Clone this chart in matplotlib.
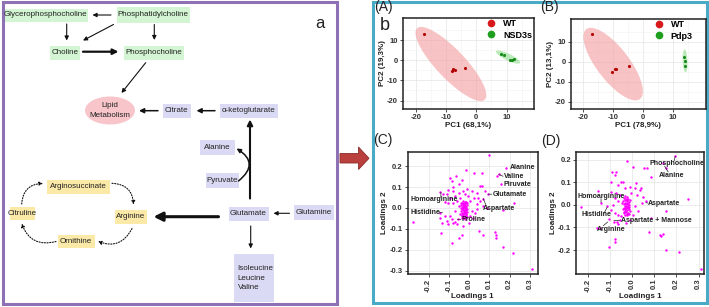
import numpy as np
import matplotlib.pyplot as plt
from matplotlib import font_manager
from matplotlib.patches import Rectangle, Ellipse, Polygon
from matplotlib.lines import Line2D

plt.rcParams['axes.unicode_minus'] = False
plt.rcParams['font.family'] = ['Liberation Sans', 'DejaVu Sans']

installed = {f.name for f in font_manager.fontManager.ttflist}
if 'Liberation Sans Narrow' in installed:
    narrow, box_fs = 'Liberation Sans Narrow', 7
else:
    narrow, box_fs = 'Liberation Sans', 5.8

# ---------------- data ----------------
# pathway (panel a)
green_nodes = ['Glycerophosphocholine', 'Phosphatidylcholine', 'Choline', 'Phosphocholine']
blue_nodes = ['Citrate', 'α-ketoglutarate', 'Alanine', 'Pyruvate', 'Glutamate', 'Glutamine']
yellow_nodes = ['Arginine', 'Arginosuccinate', 'Citruline', 'Ornithine']
bcaa = ['Isoleucine', 'Leucine', 'Valine']

# PCA scores (A) WT vs NSD3s
a_wt_x = [-17.2, -8.0, -7.6, -7.2, -3.7]
a_wt_y = [13.3, -5.3, -4.5, -5.0, -3.8]
a_ko_x = [8.2, 9.2, 11.0, 11.7, 12.5]
a_ko_y = [3.3, 2.8, 0.3, 0.3, 0.8]
# PCA scores (B) WT vs Pdp3
b_wt_x = [-16.9, -9.5, -10.3, -9.0, -4.7]
b_wt_y = [13.9, -3.8, -5.2, -3.9, -2.2]
b_ko_x = [13.7, 14.1, 14.0]
b_ko_y = [2.5, 0.3, -2.0]

# loadings (C)
c_x = [0.098, -0.015, 0.025, 0.062, 0.182, 0.138, 0.146, 0.157, -0.093, -0.082, -0.064, -0.034,
       -0.048, -0.077, -0.143, -0.130, 0.054, 0.064, 0.079, 0.095, 0.038, 0.013, -0.011, -0.028,
       -0.052, -0.077, -0.102, -0.110, -0.093, -0.069, -0.044, -0.003, 0.025, 0.046, 0.054, 0.038,
       0.070, -0.061, -0.077, -0.102, -0.118, -0.277, -0.143, -0.143, -0.134, -0.110, -0.118, -0.093,
       -0.085, -0.077, -0.102, -0.061, -0.069, -0.138, -0.036, -0.048, -0.085, 0.223, 0.166, 0.049,
       0.067, 0.128, 0.131, 0.133, 0.166, 0.215, 0.310, 0.013, 0.030, 0.038, 0.005, 0.021, -0.057,
       -0.020, 0.005, -0.052, -0.069, -0.044, 0.002, -0.028, 0.070, 0.087,
       -0.030, -0.022, -0.035, -0.015, -0.027, -0.018, -0.038, -0.010, -0.025, -0.032, -0.020, -0.013,
       -0.040, -0.028, -0.017, -0.034, -0.024, -0.008, -0.030, -0.019, -0.038, -0.012, -0.026, -0.033,
       -0.021, -0.015, -0.029, -0.036, -0.023, -0.017, -0.031, -0.025, -0.020, -0.027, -0.022, -0.031,
       -0.014, -0.036, -0.018, -0.026, -0.011, -0.041, -0.028, -0.016, -0.033, -0.024, -0.019, -0.029,
       -0.035, -0.012]
c_y = [0.254, 0.184, 0.169, 0.169, 0.193, 0.153, 0.161, 0.113, 0.142, 0.129, 0.152, 0.133,
       0.113, 0.101, 0.078, 0.065, 0.105, 0.104, 0.081, 0.069, 0.073, 0.081, 0.089, 0.081,
       0.073, 0.081, 0.085, 0.065, 0.050, 0.058, 0.050, 0.058, 0.050, 0.050, 0.034, 0.018,
       0.045, 0.034, 0.026, 0.026, 0.030, -0.065, -0.022, -0.046, -0.070, -0.062, -0.038, -0.038,
       -0.054, -0.070, -0.078, -0.078, -0.065, -0.121, -0.131, -0.145, -0.169, 0.022, -0.008, -0.110,
       -0.129, -0.117, -0.129, -0.145, -0.185, -0.216, -0.291, -0.014, -0.022, -0.006, -0.038, -0.046,
       -0.054, 0.065, 0.034, 0.010, -0.014, -0.030, -0.070, -0.086, 0.010, 0.002,
       0.035, 0.030, 0.025, 0.028, 0.020, 0.018, 0.015, 0.015, 0.010, 0.008, 0.005, 0.004,
       0.002, 0.000, -0.003, -0.005, -0.008, -0.006, -0.012, -0.014, -0.016, -0.018, -0.020, -0.024,
       -0.025, -0.028, -0.031, -0.033, -0.036, -0.040, -0.043, -0.047, -0.052, -0.022, 0.001, 0.018,
       -0.010, -0.001, 0.010, 0.026, 0.022, 0.022, -0.037, -0.034, -0.050, 0.015, -0.020, 0.005,
       -0.040, -0.045]

# loadings (D)
d_x = [0.195, 0.140, 0.155, -0.021, 0.005, 0.053, 0.069, 0.084, -0.089, -0.071, -0.078, -0.048,
       -0.039, -0.153, -0.138, -0.229, 0.253, 0.152, 0.062, 0.045, 0.087, -0.113, -0.083, -0.068,
       -0.056, -0.156, -0.143, -0.104, -0.063, 0.077, 0.126, 0.129, 0.141, -0.078, -0.075, -0.105,
       0.152, 0.214, 0.310, -0.093, -0.063, -0.033, -0.011, 0.012, 0.035, 0.042, 0.020, -0.003,
       0.024, 0.050, -0.093, -0.071, -0.056, -0.078, -0.063, -0.086, -0.093, -0.078, -0.063, -0.048,
       0.012, 0.027, 0.005, -0.011, -0.029,
       -0.035, -0.025, -0.018, -0.030, -0.040, -0.022, -0.012, -0.033, -0.027, -0.017, -0.038, -0.024,
       -0.031, -0.014, -0.020, -0.036, -0.027, -0.042, -0.016, -0.023, -0.032, -0.011, -0.027, -0.019,
       -0.036, -0.024, -0.030, -0.015, -0.021, -0.029, -0.013, -0.034, -0.018, -0.025, -0.038, -0.022,
       -0.044, -0.009, -0.028, -0.033]
d_y = [0.218, 0.184, 0.165, 0.194, 0.169, 0.165, 0.165, 0.125, 0.144, 0.144, 0.132, 0.100,
       0.103, 0.062, 0.007, -0.010, 0.026, -0.025, 0.015, 0.010, -0.056, -0.007, -0.076, -0.076,
       -0.066, -0.103, -0.103, -0.063, -0.085, -0.121, -0.132, -0.140, -0.129, -0.151, -0.166, -0.187,
       -0.201, -0.209, -0.282, 0.103, 0.088, 0.074, 0.081, 0.074, 0.066, 0.076, 0.096, 0.051,
       0.044, 0.037, 0.059, 0.051, 0.044, 0.029, 0.015, 0.000, -0.022, -0.037, -0.044, -0.051,
       -0.007, -0.029, -0.044, -0.066, -0.081,
       0.030, 0.033, 0.025, 0.020, 0.018, 0.015, 0.012, 0.010, 0.005, 0.003, 0.002, -0.003,
       -0.006, -0.008, -0.011, -0.012, -0.016, -0.018, -0.020, -0.024, -0.026, -0.028, -0.031, -0.034,
       -0.036, -0.040, -0.043, -0.042, 0.008, 0.026, -0.001, -0.020, -0.016, 0.020, -0.030, -0.046,
       0.008, 0.020, -0.009, 0.040]

c_labels = ['Alanine', 'Valine', 'Piruvate', 'Glutamate', 'Aspartate', 'Homoarginine', 'Histidine', 'Proline']
d_labels = ['Phosphocholine', 'Alanine', 'Homoarginine', 'Histidine', 'Aspartate',
            'Aspartate + Mannose', 'Arginine']

# ---------------- figure ----------------
W, H = 709, 307
fig = plt.figure(figsize=(W / 100, H / 100), dpi=100)
bg = fig.add_axes([0, 0, 1, 1])
bg.set_xlim(0, W)
bg.set_ylim(H, 0)
bg.axis('off')

GREEN, BLUE, YELLOW, PINK = '#d3f5d3', '#dadaf4', '#fbe9a8', '#f8c6ca'

# box extents in pixels (x0, y0, x1, y1)
box_pos = {
    'Glycerophosphocholine': (3.5, 8.5, 87.5, 21.5),
    'Phosphatidylcholine': (116.5, 7, 189.5, 22.5),
    'Choline': (49.5, 46, 80, 59.5),
    'Phosphocholine': (124, 46, 183.5, 60),
    'Citrate': (162.5, 104, 190.5, 117.5),
    'α-ketoglutarate': (220, 103.5, 277.5, 117.5),
    'Alanine': (200, 140, 235, 155),
    'Pyruvate': (206, 172.5, 238.5, 187.5),
    'Glutamate': (228.5, 206.5, 268.5, 221),
    'Glutamine': (294, 205, 333.5, 220),
    'Arginine': (115, 210, 146.5, 224),
    'Arginosuccinate': (46.5, 180, 110, 193.5),
    'Citruline': (10, 206.5, 35, 220),
    'Ornithine': (57.5, 235, 95, 247.5),
}


def node(name, color):
    x0, y0, x1, y1 = box_pos[name]
    bg.add_patch(Rectangle((x0, y0), x1 - x0, y1 - y0, fc=color, ec='none'))
    bg.text((x0 + x1) / 2, (y0 + y1) / 2, name, ha='center', va='center',
            fontsize=box_fs, family=narrow, color='#222222')


for n in green_nodes:
    node(n, GREEN)
for n in blue_nodes:
    node(n, BLUE)
for n in yellow_nodes:
    node(n, YELLOW)

# BCAA box
bg.add_patch(Rectangle((233.5, 254), 40, 47.5, fc=BLUE, ec='none'))
bg.text(237.5, 278, '\n'.join(bcaa), ha='left', va='center', fontsize=box_fs,
        family=narrow, color='#222222', linespacing=1.55)

# lipid metabolism ellipse
bg.add_patch(Ellipse((110, 110.5), 50, 28, fc=PINK, ec='none'))
bg.text(110, 110.5, 'Lipid\nMetabolism', ha='center', va='center', fontsize=box_fs,
        family=narrow, color='#222222', linespacing=1.5)


def arrow(p0, p1, lw=0.8, ms=6, rad=0.0, ls='-'):
    bg.annotate('', xy=p1, xytext=p0,
                arrowprops=dict(arrowstyle='-|>', lw=lw, color='#111111', mutation_scale=ms,
                                shrinkA=0, shrinkB=0, linestyle=ls,
                                connectionstyle='arc3,rad=%s' % rad))


arrow((111, 15), (92.5, 15))
arrow((66.7, 24), (66.7, 40.5))
arrow((113.5, 24.5), (83, 40.5))
arrow((154.3, 24.5), (154.3, 40))
arrow((83, 51.7), (118.5, 51.7), lw=1.6, ms=8)
arrow((145.7, 62.7), (121.5, 93))
arrow((158, 110.7), (139, 110.7), lw=1.1, ms=7)
arrow((215, 110.7), (196.5, 110.7), lw=1.1, ms=7)
arrow((250, 198.5), (250, 119.5), lw=1.5, ms=8)
arrow((238.5, 181), (236.5, 148.5), lw=1.1, ms=6, rad=0.7)
arrow((289.5, 213.3), (273.5, 213.3))
arrow((250.7, 226), (250.7, 248.5))
arrow((218.5, 216.7), (153.5, 216.7), lw=2.2, ms=13)
# urea cycle (dotted)
arrow((21.7, 204), (43, 183.5), lw=0.8, ms=5, rad=-0.45, ls=(0, (1, 1.4)))
arrow((112, 183.3), (133.5, 204.5), lw=0.8, ms=5, rad=-0.45, ls=(0, (1, 1.4)))
arrow((132, 228.5), (98, 241.3), lw=0.8, ms=5, rad=-0.45, ls=(0, (1, 1.4)))
arrow((56, 241.5), (21.7, 223.5), lw=0.8, ms=5, rad=-0.45, ls=(0, (1, 1.4)))

bg.text(320, 24, 'a', ha='center', va='center', fontsize=12, color='#222222')

# panel borders
bg.add_patch(Rectangle((2.5, 2), 334, 302, fill=False, ec='#8e71b4', lw=2.2))
bg.add_patch(Rectangle((372.5, 1.5), 334.5, 301.5, fill=False, ec='#4aabc6', lw=2.2))

# red arrow between panels
bg.add_patch(Polygon([(340, 153.5), (358.5, 153.5), (358.5, 147), (369, 158.3),
                      (358.5, 169.5), (358.5, 163), (340, 163)],
                     closed=True, fc='#b9403d', ec='#8c2b29', lw=0.6))

# panel letters
bg.text(374, 7, '(A)', fontsize=10, va='center', ha='left', color='#222222')
bg.text(540, 7, '(B)', fontsize=10, va='center', ha='left', color='#222222')
bg.text(373, 140, '(C)', fontsize=10, va='center', ha='left', color='#222222')
bg.text(541, 141, '(D)', fontsize=10, va='center', ha='left', color='#222222')
bg.text(385, 26, 'b', fontsize=13, va='center', ha='center', color='#222222')


def px_axes(x0, y0, x1, y1):
    return fig.add_axes([x0 / W, 1 - y1 / H, (x1 - x0) / W, (y1 - y0) / H])


def style(ax, xt, xl, yt, yl, xrot=0, minor=None):
    ax.set_xticks(xt, labels=xl, fontsize=5.5, fontweight='bold', rotation=xrot)
    ax.set_yticks(yt, labels=yl, fontsize=5.5, fontweight='bold')
    ax.tick_params(length=2.5, width=0.6, pad=1, color='#333333', labelcolor='#333333')
    if minor is not None:
        ax.set_xticks(minor[0], minor=True)
        ax.set_yticks(minor[1], minor=True)
        ax.tick_params(which='minor', length=0)
        ax.grid(True, which='minor', color='#f2f2f2', lw=0.4)
    ax.grid(True, which='major', color='#e4e4e4', lw=0.5)
    ax.set_axisbelow(True)
    for s in ax.spines.values():
        s.set_linewidth(1.1)
        s.set_color('#222222')


def ellipse(ax, c, a, b, color, alpha):
    t = np.linspace(0, 2 * np.pi, 120)
    xs = c[0] + np.cos(t) * a[0] + np.sin(t) * b[0]
    ys = c[1] + np.cos(t) * a[1] + np.sin(t) * b[1]
    ax.fill(xs, ys, color=color, alpha=alpha, lw=0, zorder=1)


RED, GRN, MAG = '#d7191c', '#1f9e1f', '#ff00ff'
lab = dict(fontsize=5.8, fontweight='bold', color='#222222')
pc_ticks = [-20, -10, 0, 10]
pc_minor = ([-15, -5, 5, 15], [-15, -5, 5, 15])

# (A)
axA = px_axes(403, 18, 534, 109)
ellipse(axA, (-8.43, -1.85), (11.2, -17.75), (3.5, 4.9), '#f5a3a6', 0.65)
ellipse(axA, (10.5, 1.6), (4.0, -2.9), (0.5, 1.5), '#8fdc8f', 0.6)
axA.scatter(a_wt_x, a_wt_y, s=5, color='#b30000', lw=0, zorder=3)
axA.scatter(a_ko_x, a_ko_y, s=5, color='#188a18', lw=0, zorder=3)
axA.set_xlim(-24.3, 19.1)
axA.set_ylim(-24.2, 21)
style(axA, pc_ticks, ['-20', '-10', '0', '10'], pc_ticks, ['-20', '-10', '0', '10'], minor=pc_minor)
axA.set_xlabel('PC1 (68,1%)', labelpad=1, **lab)
axA.set_ylabel('PC2 (19,3%)', labelpad=1, **lab)
axA.legend(handles=[Line2D([], [], marker='o', ls='', color=RED, ms=4.5, label='WT'),
                    Line2D([], [], marker='o', ls='', color=GRN, ms=4.5, label='NSD3s')],
           loc='upper left', bbox_to_anchor=(0.64, 0.99), frameon=False,
           prop=dict(weight='bold', size=6.5), handlelength=1, handletextpad=0.8,
           labelspacing=0.3, borderpad=0, borderaxespad=0)

# (B)
axB = px_axes(571, 19, 705.5, 109)
ellipse(axB, (-9.97, -1.25), (8.93, -17.45), (4.3, 4.95), '#f5a3a6', 0.65)
ellipse(axB, (14.0, 0.35), (0.17, -5.75), (0.8, 0.05), '#8fdc8f', 0.6)
axB.scatter(b_wt_x, b_wt_y, s=5, color='#b30000', lw=0, zorder=3)
axB.scatter(b_ko_x, b_ko_y, s=5, color='#188a18', lw=0, zorder=3)
axB.set_xlim(-24, 20.8)
axB.set_ylim(-23.7, 21.3)
style(axB, pc_ticks, ['-20', '-10', '0', '10'], pc_ticks, ['-20', '-10', '0', '10'], minor=pc_minor)
axB.set_xlabel('PC1 (78,9%)', labelpad=1, **lab)
axB.set_ylabel('PC2 (13,1%)', labelpad=1, **lab)
axB.legend(handles=[Line2D([], [], marker='o', ls='', color=RED, ms=4.5, label='WT'),
                    Line2D([], [], marker='o', ls='', color=GRN, ms=4.5, label='Pdp3')],
           loc='upper left', bbox_to_anchor=(0.62, 0.99), frameon=False,
           prop=dict(weight='bold', size=6.5), handlelength=1, handletextpad=0.8,
           labelspacing=0.3, borderpad=0, borderaxespad=0)

ld_x = [-0.2, -0.1, 0.0, 0.1, 0.2, 0.3]
ld_xl = ['-0.2', '-0.1', '0.0', '0.1', '0.2', '0.3']
ann = dict(fontsize=5, fontweight='bold', color='#222222', va='center', ha='left')
lead = dict(arrowstyle='-', lw=0.5, color='#222222', shrinkA=0, shrinkB=0)

# (C)
axC = px_axes(407.5, 152, 537.5, 274)
axC.scatter(c_x, c_y, s=3, color=MAG, lw=0, zorder=3)
axC.set_xlim(-0.304, 0.338)
axC.set_ylim(-0.316, 0.268)
style(axC, ld_x, ld_xl, [0.2, 0.1, 0.0, -0.1, -0.2, -0.3],
      ['0.2', '0.1', '0.0', '-0.1', '-0.2', '-0.3'], xrot=90)
axC.set_xlabel('Loadings 1', labelpad=1, **lab)
axC.set_ylabel('Loadings 2', labelpad=1, **lab)
c_pos = [(0.202, 0.193), (0.172, 0.150), (0.172, 0.111), (0.117, 0.064), (0.068, -0.002),
         (-0.287, 0.040), (-0.287, -0.021), (-0.038, -0.057)]
c_tip = [None, (0.146, 0.160), None, (0.095, 0.066), (0.070, 0.045),
         (-0.139, 0.076), (-0.131, -0.021), (-0.057, -0.056)]
c_base = [None, (0.168, 0.152), None, (0.112, 0.066), (0.085, 0.010),
          (-0.139, 0.050), (-0.148, -0.021), (-0.041, -0.056)]
for t, p, tip, base in zip(c_labels, c_pos, c_tip, c_base):
    axC.text(p[0], p[1], t, zorder=4, **ann)
    if tip is not None:
        axC.annotate('', xy=tip, xytext=base, arrowprops=lead)

# (D)
axD = px_axes(576, 152, 704.5, 274)
axD.scatter(d_x, d_y, s=3, color=MAG, lw=0, zorder=3)
axD.set_xlim(-0.253, 0.327)
axD.set_ylim(-0.306, 0.234)
style(axD, ld_x, ld_xl, [0.2, 0.1, 0.0, -0.1, -0.2],
      ['0.2', '0.1', '0.0', '-0.1', '-0.2'], xrot=90)
axD.set_xlabel('Loadings 1', labelpad=1, **lab)
axD.set_ylabel('Loadings 2', labelpad=1, **lab)
d_pos = [(0.080, 0.185), (0.120, 0.132), (-0.246, 0.037), (-0.228, -0.044), (0.072, 0.007),
         (-0.051, -0.069), (-0.160, -0.110)]
d_tip = [(0.195, 0.216), (0.147, 0.171), (-0.140, 0.028), (-0.112, -0.010), (0.062, 0.010),
         (-0.082, -0.069), (-0.110, -0.076)]
d_base = [(0.190, 0.195), (0.163, 0.146), (-0.140, 0.010), (-0.126, -0.036), (0.072, 0.008),
          (-0.056, -0.069), (-0.130, -0.092)]
for t, p, tip, base in zip(d_labels, d_pos, d_tip, d_base):
    axD.text(p[0], p[1], t, zorder=4, **ann)
    axD.annotate('', xy=tip, xytext=base, arrowprops=lead)

fig.savefig('out.png', dpi=100)
